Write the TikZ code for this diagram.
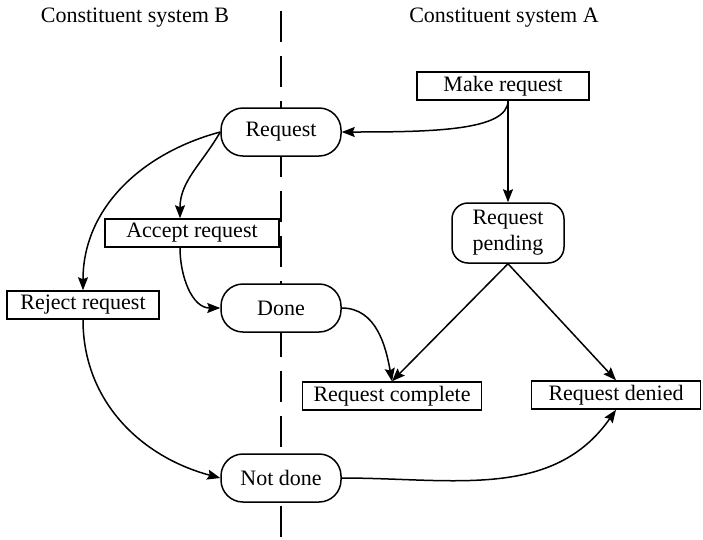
\documentclass[tikz,border=0pt]{standalone}
\usepackage{fontspec}
\setmainfont{Liberation Serif}
\usetikzlibrary{arrows.meta, positioning, shadows}

\begin{document}
\begin{tikzpicture}[
    x=1pt, y=-1pt,
    font=\fontsize{22}{26}\selectfont,
    line width=1.5pt,
    statebox/.style={draw, fill=white, rounded corners=22pt, minimum width=120pt, minimum height=48pt, inner sep=2pt, align=center},
    actbox/.style={draw, fill=white, minimum height=28pt, inner sep=0pt, general shadow={fill=black, shadow xshift=0.8pt, shadow yshift=-0.8pt}},
    arr/.style={-{Stealth[length=13pt,width=10pt,inset=2pt]}, line width=1.5pt},
    divider/.style={dash pattern=on 31pt off 14pt, line width=1.5pt},
]

\useasboundingbox (0,0) rectangle (703,539);

% Dividing line between the two constituent systems
\coordinate (divtop) at (281,11);
\coordinate (divbot) at (281,539);
\draw[divider] (divtop) -- (divbot);

% Titles
\node (sysB) at (135,18) {Constituent system B};
\node (sysA) at (504,18) {Constituent system A};

% ===== States on the divider =====
\node[statebox] (req) at (281,132) {Request};
\node[statebox] (done) at (281,308) {Done};
\node[statebox] (notdone) at (281,478) {Not done};

% ===== System A =====
\node[actbox, minimum width=172pt] (mkreq) at (503,86) {Make request};
\node[statebox, minimum width=112pt, minimum height=60pt, rounded corners=16pt] (pend) at (508,233) {Request\\pending};
\node[actbox, minimum width=179pt] (reqcomp) at (392,396) {Request complete};
\node[actbox, minimum width=169pt] (reqden) at (616,395) {Request denied};

% ===== System B =====
\node[actbox, minimum width=174pt] (accreq) at (192,233) {Accept request};
\node[actbox, minimum width=152pt] (rejreq) at (83,305) {Reject request};

% Make request
\draw[arr] (mkreq.south -| pend.north) .. controls +(0,30) and +(90,0) .. (req.east);
\draw[arr] (mkreq.south -| pend.north) -- (pend.north);

% Request handled by system B
\draw[arr] (req.west) to[out=-120, in=90] ([xshift=-12pt]accreq.north);
\draw[arr] (req.west) to[out=195, in=90] (rejreq.north);
\draw[arr] ([xshift=-12pt]accreq.south) to[out=-90, in=180] (done.west);
\draw[arr] (rejreq.south) to[out=-90, in=165] (notdone.west);

% Outcomes back in system A
\draw[arr] (done.east) to[out=0, in=100] (reqcomp.north);
\draw[arr] (pend.south) -- (reqcomp.north);
\draw[arr] (pend.south) -- (reqden.north);
\draw[arr] (notdone.east) to[out=0, in=-125] (reqden.south);

\end{tikzpicture}
\end{document}
